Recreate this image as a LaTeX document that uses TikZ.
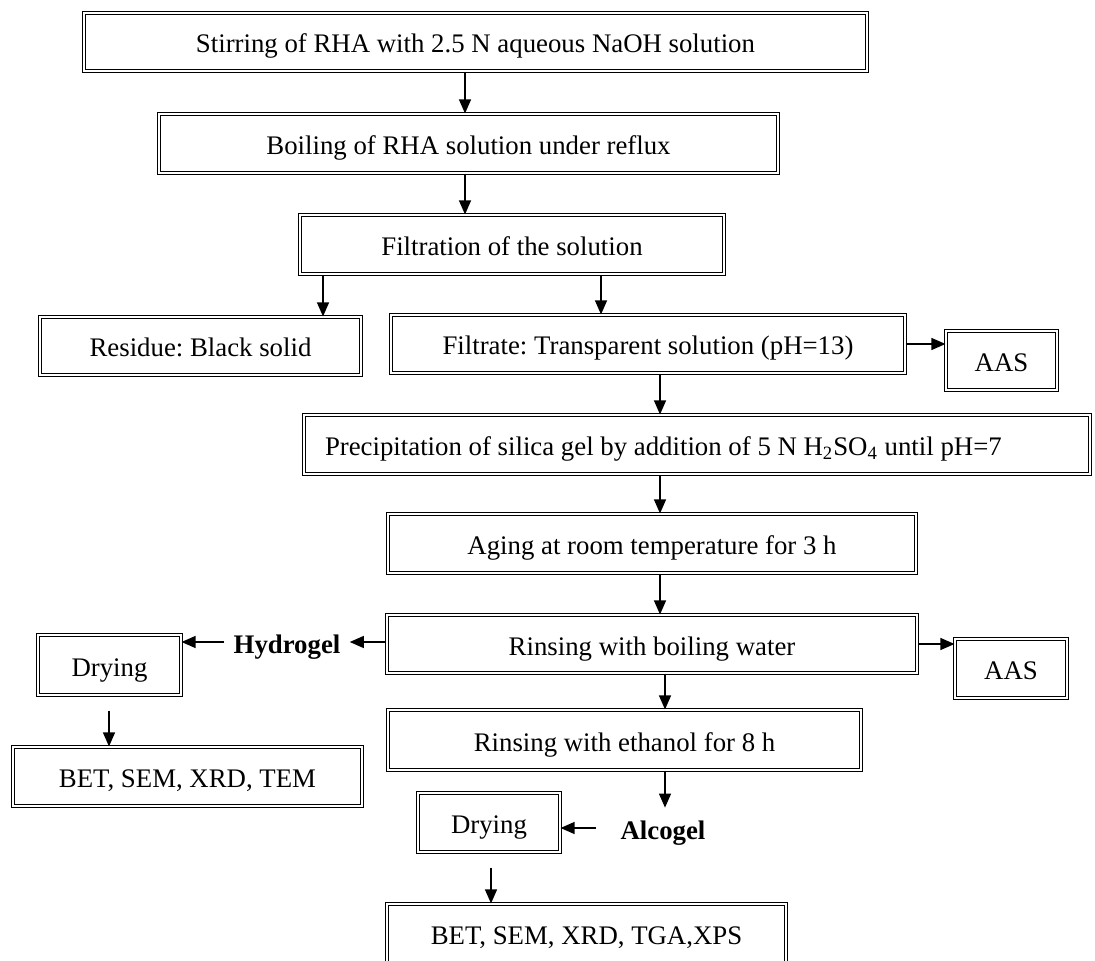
\documentclass[tikz,border=0pt]{standalone}
\usepackage{fontspec}
\setmainfont{Liberation Serif}
\usetikzlibrary{arrows.meta,calc}
\begin{document}
\frenchspacing
\begin{tikzpicture}[x=0.5pt,y=-0.5pt,
  box/.style={draw, double, double distance=0.8pt, line width=0.55pt, inner sep=0pt, align=center,
    text height=11pt, text depth=0pt,
    font=\fontsize{13.4pt}{16pt}\selectfont},
  lbl/.style={inner sep=0pt, text height=11pt, text depth=0pt, font=\fontsize{13.4pt}{16pt}\selectfont\bfseries},
  arr/.style={-{Triangle[width=6pt,length=7pt]}, line width=0.6pt}]
\clip (0,0) rectangle (1095,961);
% helper x positions
\coordinate (xa) at (465,0);
\coordinate (xb) at (323,0);
\coordinate (xc) at (601,0);
\coordinate (xd) at (660,0);
\coordinate (xe) at (665,0);
\coordinate (xf) at (491,0);
\coordinate (xg) at (109,0);
% boxes
\node[box, minimum width=391.5pt, minimum height=29pt] (b1) at (475.5,42) {Stirring of RHA with 2.5 N aqueous NaOH solution};
\node[box, minimum width=309.5pt, minimum height=29.5pt] (b2) at (468.5,143.5) {Boiling of RHA solution under reflux};
\node[box, minimum width=212pt, minimum height=29.5pt] (b3) at (512,244.5) {Filtration of the solution};
\node[box, minimum width=160.5pt, minimum height=29pt] (res) at (200.5,346) {Residue: Black solid};
\node[box, minimum width=257pt, minimum height=29pt] (filt) at (648,344) {Filtrate: Transparent solution (pH=13)};
\node[box, minimum width=55.5pt, minimum height=29.5pt] (aas1) at (1001.5,360.5) {AAS};
\node[box, minimum width=393pt, minimum height=29.5pt] (prec) at (697,444.5) {\makebox[372pt][l]{Precipitation of silica gel by addition of 5 N H\textsubscript{2}SO\textsubscript{4} until pH=7}};
\node[box, minimum width=264pt, minimum height=29.5pt] (aging) at (652,543.5) {Aging at room temperature for 3 h};
\node[box, minimum width=265pt, minimum height=29pt] (rinse) at (652,644) {Rinsing with boiling water};
\node[box, minimum width=56pt, minimum height=29.5pt] (aas2) at (1011,668.5) {AAS};
\node[box, minimum width=71.5pt, minimum height=30pt] (dry1) at (109.5,665) {Drying};
\node[box, minimum width=174.5pt, minimum height=29.5pt] (bet1) at (187.5,776.5) {BET, SEM, XRD, TEM};
\node[box, minimum width=236.5pt, minimum height=30pt] (eth) at (624.5,740) {Rinsing with ethanol for 8 h};
\node[box, minimum width=71pt, minimum height=29.5pt] (dry2) at (489,822.5) {Drying};
\node[box, minimum width=199.5pt, minimum height=29.5pt] (bet2) at (586.5,933.5) {BET, SEM, XRD, TGA,XPS};
\node[lbl, inner xsep=4.5pt] (hyd) at (287,642) {Hydrogel};
\node[lbl, inner xsep=12pt, inner ysep=4.5pt] (alc) at (663,828) {Alcogel};
% connectors
\draw[arr] (b1.south -| xa) -- (b2.north -| xa);
\draw[arr] (b2.south -| xa) -- (b3.north -| xa);
\draw[arr] (b3.south -| xb) -- (res.north -| xb);
\draw[arr] (b3.south -| xc) -- (filt.north -| xc);
\draw[arr] (filt.east) -- (filt.east -| aas1.west);
\draw[arr] (filt.south -| xd) -- (prec.north -| xd);
\draw[arr] (prec.south -| xd) -- (aging.north -| xd);
\draw[arr] (aging.south -| xd) -- (rinse.north -| xd);
\draw[arr] (rinse.west |- hyd.east) -- (hyd.east);
\draw[arr] (hyd.west) -- (dry1.east |- hyd.west);
\draw[arr] (rinse.east) -- (rinse.east -| aas2.west);
\draw[arr] ([yshift=-7.5pt]dry1.south -| xg) -- (bet1.north -| xg);
\draw[arr] (rinse.south -| xe) -- (eth.north -| xe);
\draw[arr] (eth.south -| xe) -- (alc.north -| xe);
\draw[arr] (alc.west) -- (alc.west -| dry2.east);
\draw[arr] ([yshift=-7.5pt]dry2.south -| xf) -- (bet2.north -| xf);
\end{tikzpicture}
\end{document}
